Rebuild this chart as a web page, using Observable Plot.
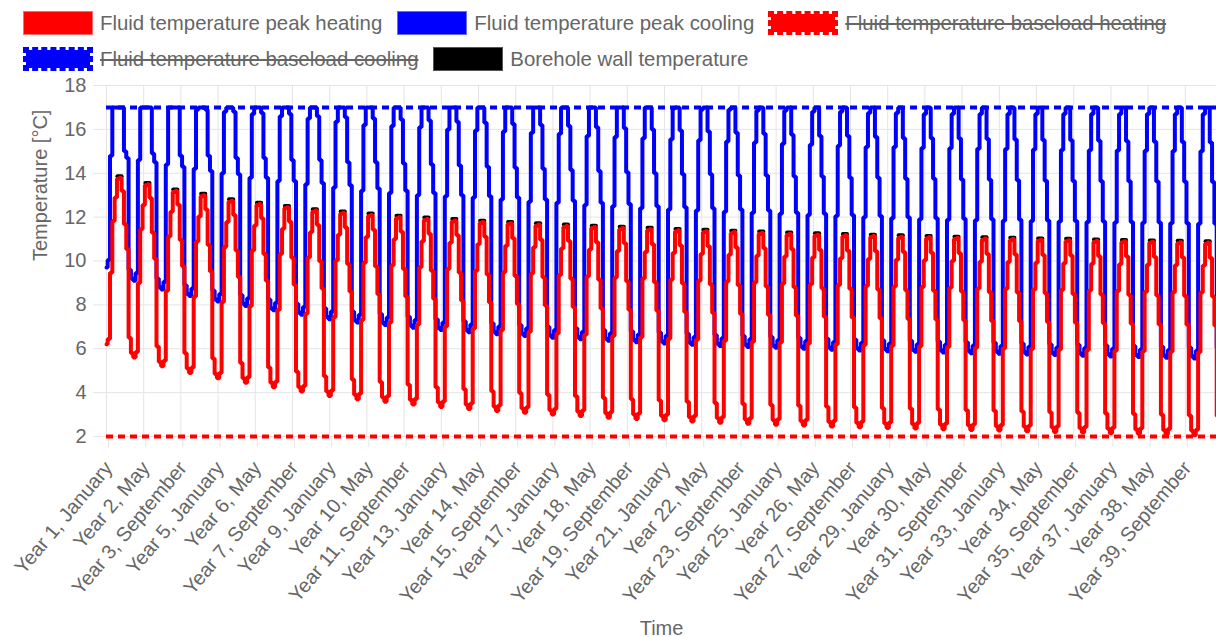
<!DOCTYPE html>
<html>
<head>
<meta charset="utf-8">
<script src="https://cdn.jsdelivr.net/npm/d3@7"></script>
<script src="https://cdn.jsdelivr.net/npm/@observablehq/plot@0.6"></script>
<style>
html,body{margin:0;padding:0;background:#fff;overflow:hidden;width:1216px;height:637px;}
#wrap{position:relative;width:1216px;height:637px;font-family:"Liberation Sans",Arial,Helvetica,sans-serif;color:#666;}
#legend{position:absolute;left:0;top:0;width:1216px;height:78px;font-size:20.4px;z-index:2;}
.item{position:absolute;display:flex;align-items:center;height:24.3px;white-space:nowrap;}
.box{width:70px;height:24.3px;box-sizing:border-box;margin-right:7.3px;flex:none;}
.txt{line-height:24.3px;}
.hidden{text-decoration:line-through;text-decoration-thickness:2px;text-decoration-color:#666;}
#chart{position:absolute;left:0;top:0;}
#chart svg{display:block;}
</style>
</head>
<body>
<div id="wrap">
  <div id="chart"></div>
  <div id="legend"></div>
</div>
<script>
// ---------- data ----------
const months = ["January","February","March","April","May","June","July","August","September","October","November","December"];
const years = Array.from({length: 40}, (_, k) => k + 1);

// Fluid temperature peak heating, one row per year (Jan..Dec), °C
const peakHeating = [
 [6.20,6.45,9.47,11.82,12.89,13.75,13.80,13.19,11.67,10.53,6.50,5.80],
 [5.60,5.85,9.00,11.45,12.55,13.45,13.50,12.87,11.29,10.10,6.10,5.40],
 [5.20,5.45,8.64,11.12,12.24,13.15,13.20,12.56,10.96,9.76,5.80,5.10],
 [4.90,5.15,8.38,10.89,12.03,12.95,13.00,12.35,10.73,9.52,5.55,4.85],
 [4.65,4.90,8.13,10.64,11.78,12.70,12.75,12.10,10.48,9.27,5.35,4.65],
 [4.45,4.70,7.95,10.48,11.62,12.55,12.60,11.95,10.32,9.10,5.15,4.45],
 [4.25,4.50,7.78,10.32,11.47,12.40,12.45,11.79,10.15,8.92,4.95,4.25],
 [4.05,4.30,7.60,10.16,11.31,12.25,12.30,11.64,9.99,8.75,4.75,4.05],
 [3.85,4.10,7.44,10.03,11.20,12.15,12.20,11.53,9.86,8.61,4.60,3.90],
 [3.70,3.95,7.31,9.92,11.09,12.05,12.10,11.43,9.75,8.49,4.48,3.78],
 [3.58,3.83,7.20,9.81,10.99,11.95,12.00,11.33,9.64,8.38,4.36,3.66],
 [3.46,3.71,7.10,9.72,10.90,11.87,11.92,11.24,9.55,8.28,4.25,3.55],
 [3.35,3.60,7.01,9.64,10.83,11.80,11.85,11.17,9.47,8.20,4.15,3.45],
 [3.25,3.50,6.92,9.56,10.76,11.73,11.78,11.10,9.39,8.11,4.06,3.36],
 [3.16,3.41,6.84,9.49,10.69,11.67,11.72,11.04,9.32,8.04,3.98,3.28],
 [3.08,3.33,6.77,9.43,10.63,11.61,11.66,10.97,9.26,7.97,3.90,3.20],
 [3.00,3.25,6.70,9.36,10.57,11.55,11.60,10.91,9.19,7.90,3.83,3.13],
 [2.93,3.18,6.64,9.31,10.52,11.50,11.55,10.86,9.14,7.84,3.76,3.06],
 [2.86,3.11,6.58,9.25,10.46,11.45,11.50,10.81,9.08,7.78,3.70,3.00],
 [2.80,3.05,6.52,9.20,10.41,11.40,11.45,10.76,9.03,7.73,3.64,2.94],
 [2.74,2.99,6.46,9.15,10.36,11.35,11.40,10.71,8.98,7.68,3.58,2.88],
 [2.68,2.93,6.41,9.10,10.32,11.31,11.36,10.67,8.93,7.63,3.53,2.83],
 [2.63,2.88,6.37,9.06,10.28,11.27,11.32,10.62,8.89,7.58,3.48,2.78],
 [2.58,2.83,6.32,9.02,10.24,11.23,11.28,10.58,8.84,7.54,3.44,2.74],
 [2.54,2.79,6.28,8.98,10.20,11.19,11.24,10.54,8.80,7.50,3.40,2.70],
 [2.50,2.75,6.24,8.94,10.16,11.15,11.20,10.50,8.76,7.46,3.36,2.66],
 [2.46,2.71,6.21,8.91,10.12,11.12,11.17,10.47,8.73,7.42,3.32,2.62],
 [2.42,2.67,6.17,8.87,10.09,11.09,11.14,10.44,8.70,7.39,3.29,2.59],
 [2.39,2.64,6.14,8.84,10.06,11.06,11.11,10.41,8.67,7.36,3.26,2.56],
 [2.36,2.61,6.11,8.81,10.03,11.03,11.08,10.38,8.64,7.33,3.23,2.53],
 [2.33,2.58,6.08,8.78,10.00,11.00,11.05,10.35,8.61,7.30,3.20,2.50],
 [2.30,2.55,6.05,8.75,9.97,10.97,11.02,10.32,8.58,7.27,3.17,2.47],
 [2.27,2.52,6.02,8.73,9.95,10.95,11.00,10.30,8.56,7.25,3.14,2.44],
 [2.24,2.49,5.99,8.70,9.92,10.92,10.97,10.27,8.53,7.22,3.11,2.41],
 [2.21,2.46,5.97,8.68,9.90,10.90,10.95,10.25,8.50,7.19,3.08,2.38],
 [2.18,2.43,5.94,8.65,9.87,10.87,10.92,10.22,8.47,7.16,3.05,2.35],
 [2.15,2.40,5.91,8.63,9.85,10.85,10.90,10.20,8.45,7.14,3.02,2.32],
 [2.12,2.37,5.89,8.60,9.83,10.83,10.88,10.18,8.43,7.11,2.99,2.29],
 [2.09,2.34,5.86,8.58,9.81,10.81,10.86,10.16,8.40,7.09,2.96,2.26],
 [2.06,2.31,5.84,8.56,9.79,10.79,10.84,10.14,8.38,7.06,2.93,2.23]
];

// Fluid temperature peak cooling, one row per year (Jan..Dec), °C
const peakCooling = [
 [9.70,10.05,14.80,17.00,17.00,17.00,17.00,17.00,15.00,14.70,9.60,9.20],
 [9.10,9.45,14.60,17.00,17.00,17.00,17.00,17.00,14.90,14.50,9.20,8.80],
 [8.70,9.05,14.40,17.00,17.00,17.00,17.00,17.00,14.80,14.30,8.90,8.50],
 [8.40,8.75,14.20,16.90,17.00,17.00,17.00,16.90,14.80,14.10,8.65,8.25],
 [8.15,8.50,14.00,16.80,17.00,17.00,17.00,16.80,14.70,13.95,8.45,8.05],
 [7.95,8.30,13.80,16.70,17.00,17.00,17.00,16.75,14.70,13.80,8.25,7.85],
 [7.75,8.10,13.65,16.60,17.00,17.00,17.00,16.70,14.60,13.65,8.05,7.65],
 [7.55,7.90,13.50,16.50,17.00,17.00,17.00,16.60,14.60,13.55,7.85,7.45],
 [7.35,7.70,13.35,16.35,17.00,17.00,17.00,16.55,14.50,13.45,7.70,7.30],
 [7.20,7.55,13.20,16.20,17.00,17.00,17.00,16.50,14.50,13.30,7.58,7.18],
 [7.08,7.43,13.10,16.15,17.00,17.00,17.00,16.45,14.45,13.20,7.46,7.06],
 [6.96,7.31,13.00,16.10,17.00,17.00,17.00,16.40,14.40,13.10,7.35,6.95],
 [6.85,7.20,12.95,16.00,17.00,17.00,17.00,16.35,14.35,13.00,7.25,6.85],
 [6.75,7.10,12.90,15.95,17.00,17.00,17.00,16.30,14.30,12.95,7.16,6.76],
 [6.66,7.01,12.80,15.90,17.00,17.00,17.00,16.25,14.25,12.90,7.08,6.68],
 [6.58,6.93,12.70,15.85,17.00,17.00,17.00,16.20,14.20,12.80,7.00,6.60],
 [6.50,6.85,12.65,15.80,17.00,17.00,17.00,16.15,14.15,12.75,6.93,6.53],
 [6.43,6.78,12.55,15.70,17.00,17.00,17.00,16.10,14.10,12.65,6.86,6.46],
 [6.36,6.71,12.50,15.65,17.00,17.00,17.00,16.05,14.05,12.60,6.80,6.40],
 [6.30,6.65,12.40,15.60,17.00,17.00,17.00,16.00,14.00,12.50,6.74,6.34],
 [6.24,6.59,12.35,15.55,16.95,17.00,17.00,15.95,13.95,12.45,6.68,6.28],
 [6.18,6.53,12.30,15.50,16.90,17.00,17.00,15.90,13.95,12.40,6.63,6.23],
 [6.13,6.48,12.25,15.45,16.90,17.00,17.00,15.85,13.90,12.35,6.58,6.18],
 [6.08,6.43,12.20,15.40,16.85,17.00,17.00,15.80,13.90,12.30,6.54,6.14],
 [6.04,6.39,12.15,15.35,16.85,17.00,17.00,15.75,13.85,12.20,6.50,6.10],
 [6.00,6.35,12.10,15.30,16.80,17.00,17.00,15.70,13.85,12.15,6.46,6.06],
 [5.96,6.31,12.05,15.25,16.80,17.00,17.00,15.70,13.80,12.10,6.42,6.02],
 [5.92,6.27,12.00,15.20,16.75,17.00,17.00,15.65,13.80,12.05,6.39,5.99],
 [5.89,6.24,11.95,15.20,16.75,17.00,17.00,15.60,13.75,12.00,6.36,5.96],
 [5.86,6.21,11.90,15.15,16.70,17.00,17.00,15.60,13.75,11.95,6.33,5.93],
 [5.83,6.18,11.88,15.14,16.70,17.00,17.00,15.58,13.72,11.93,6.30,5.90],
 [5.80,6.15,11.86,15.12,16.70,17.00,17.00,15.56,13.70,11.90,6.27,5.87],
 [5.77,6.12,11.84,15.10,16.70,17.00,17.00,15.54,13.68,11.88,6.24,5.84],
 [5.74,6.09,11.82,15.08,16.70,17.00,17.00,15.52,13.66,11.85,6.21,5.81],
 [5.71,6.06,11.80,15.06,16.70,17.00,17.00,15.50,13.65,11.82,6.18,5.78],
 [5.68,6.03,11.78,15.05,16.70,17.00,17.00,15.48,13.64,11.80,6.15,5.75],
 [5.65,6.00,11.76,15.04,16.70,17.00,17.00,15.46,13.63,11.78,6.12,5.72],
 [5.62,5.97,11.74,15.02,16.70,17.00,17.00,15.44,13.62,11.75,6.09,5.69],
 [5.59,5.94,11.72,15.01,16.70,17.00,17.00,15.42,13.61,11.72,6.06,5.66],
 [5.56,5.91,11.70,15.00,16.70,17.00,17.00,15.40,13.60,11.70,6.03,5.63]
];

// Borehole wall temperature at the summer peak of each year (visible above the red peak), °C
const boreholeWallPeak = [13.86,13.56,13.26,13.06,12.81,12.66,12.51,12.36,12.26,12.16,12.06,11.98,11.91,11.84,11.78,11.72,11.66,11.61,11.56,11.51,
  11.46,11.42,11.38,11.34,11.30,11.26,11.23,11.20,11.17,11.14,11.11,11.08,11.06,11.03,11.01,10.98,10.96,10.94,10.92,10.90];

// limit lines (dashed)
const limitMax = 17;
const limitMin = 2;

const yTicks = [2,4,6,8,10,12,14,16,18];
const xTickLabels = ["Year 1, January","Year 2, May","Year 3, September","Year 5, January","Year 6, May","Year 7, September",
  "Year 9, January","Year 10, May","Year 11, September","Year 13, January","Year 14, May","Year 15, September",
  "Year 17, January","Year 18, May","Year 19, September","Year 21, January","Year 22, May","Year 23, September",
  "Year 25, January","Year 26, May","Year 27, September","Year 29, January","Year 30, May","Year 31, September",
  "Year 33, January","Year 34, May","Year 35, September","Year 37, January","Year 38, May","Year 39, September"];

const legendLabels = ["Fluid temperature peak heating","Fluid temperature peak cooling","Fluid temperature baseload heating",
  "Fluid temperature baseload cooling","Borehole wall temperature"];
const legendColors = ["#ff0000","#0000ff","#ff0000","#0000ff","#000000"];
const legendDashed = [false,false,true,true,false];
const legendHidden = [false,false,true,true,false];

// ---------- build ----------
const categories = years.flatMap(y => months.map(m => `Year ${y}, ${m}`));
const N = categories.length;
const tickIdx = xTickLabels.map(l => categories.indexOf(l));

const toRows = tbl => tbl.flatMap((row, yi) => row.map((v, m) => ({i: yi * 12 + m, v})));
const heatRows = toRows(peakHeating);
const coolRows = toRows(peakCooling);
const capRows = boreholeWallPeak.flatMap((v, yi) => [
  {year: yi, i: yi * 12 + 5 - 0.3, v},
  {year: yi, i: yi * 12 + 6 + 0.5, v}
]);

// legend (HTML, above the plot area)
const legend = document.getElementById("legend");
const itemPos = [[22.7, 10.7], [397, 10.7], [768, 10.7], [22.7, 46.7], [433, 46.7]];
legendLabels.forEach((lab, k) => {
  const it = document.createElement("div");
  it.className = "item";
  it.style.left = itemPos[k][0] + "px";
  it.style.top = itemPos[k][1] + "px";
  const b = document.createElement("div");
  b.className = "box";
  const c = legendColors[k];
  b.style.background = c;
  if (legendDashed[k]) {
    b.style.backgroundClip = "padding-box";
    b.style.border = "3px dashed " + c;
  } else {
    b.style.border = "1px solid " + (k === 4 ? "#555" : (k === 0 ? "#ff6a6a" : "#6a6aff"));
  }
  const t = document.createElement("span");
  t.className = "txt" + (legendHidden[k] ? " hidden" : "");
  t.textContent = lab;
  it.appendChild(b); it.appendChild(t);
  legend.appendChild(it);
});

const FONT = '"Liberation Sans", Arial, Helvetica, sans-serif';
const GRID = "#e5e5e5";
const X0 = 106, X1 = 1219.7;

const chart = Plot.plot({
  width: 1216,
  height: 637,
  marginLeft: X0,
  marginRight: 0,
  marginTop: 85,
  marginBottom: 201,
  style: {fontFamily: FONT, fontSize: "20px", color: "#666", background: "transparent"},
  x: {type: "linear", domain: [0, N - 1], range: [X0, X1]},
  y: {type: "linear", domain: [2, 18], range: [436, 85]},
  marks: [
    Plot.gridY(yTicks, {stroke: GRID, strokeOpacity: 1, strokeWidth: 1}),
    Plot.gridX(tickIdx, {stroke: GRID, strokeOpacity: 1, strokeWidth: 1}),
    Plot.axisY(yTicks, {tickSize: 13, tickPadding: 7, stroke: GRID, strokeOpacity: 1, fill: "#666",
      fontSize: 20, label: null, tickFormat: d => String(d)}),
    Plot.axisX(tickIdx, {tickSize: 11, tickPadding: 17, tickRotate: -50, dx: 2, stroke: GRID, strokeOpacity: 1,
      fill: "#666", fontSize: 20, label: null, tickFormat: i => categories[i]}),
    Plot.ruleY([limitMax], {stroke: "#0000ff", strokeWidth: 4, strokeDasharray: "7,5"}),
    Plot.ruleY([limitMin], {stroke: "#ff0000", strokeWidth: 4, strokeDasharray: "7,5"}),
    Plot.line(capRows, {x: "i", y: "v", z: "year", stroke: "#000", strokeWidth: 4}),
    Plot.line(coolRows, {x: "i", y: "v", stroke: "#0000ff", strokeWidth: 4, curve: "step", strokeLinejoin: "miter"}),
    Plot.line(heatRows, {x: "i", y: "v", stroke: "#ff0000", strokeWidth: 4, curve: "step", strokeLinejoin: "miter"}),
    Plot.text(["Time"], {frameAnchor: "bottom", dy: 198, fill: "#666", fontSize: 20}),
    Plot.text(["Temperature [°C]"], {frameAnchor: "left", dx: -66, rotate: -90, fill: "#666", fontSize: 20})
  ]
});
document.getElementById("chart").appendChild(chart);
</script>
</body>
</html>
